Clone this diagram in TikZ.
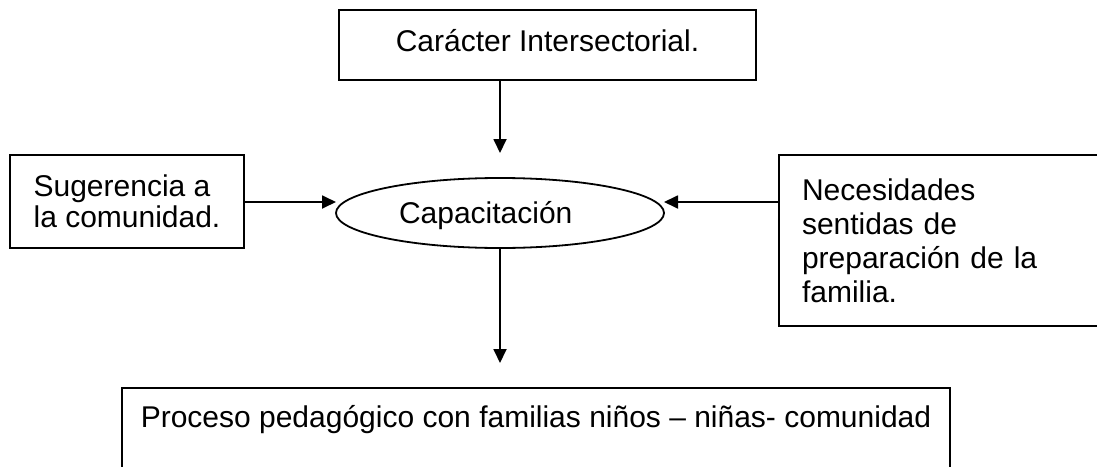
\documentclass[tikz,border=0pt]{standalone}
\usepackage{fontspec}
\setmainfont{Liberation Sans}
\usetikzlibrary{arrows.meta,shapes.geometric}
\tikzset{
    font = \fontsize{15}{16.5}\selectfont,
    every node/.style = {
        outer sep = 0pt
    },
    frame/.style = {
        draw,
        line width = 0.9pt
    },
    trace/.style = {
        -{Triangle[width=6.5pt,length=7pt]},
        line width = 0.9pt
    }
}

\begin{document}
\begin{tikzpicture}
    \useasboundingbox (0,0) rectangle (548.5pt,-233pt);
    \node (top) at (273.75pt,-22.5pt) [
        frame,
        minimum width = 208.5pt,
        minimum height = 35pt,
        text height = 12pt,
        text depth = 6pt
    ]{Carácter Intersectorial.};
    \node (cap) at (250pt,-106.5pt) [
        frame,
        ellipse,
        minimum width = 164pt,
        minimum height = 35pt,
        text width = 101pt,
        align = left,
        text height = 13pt,
        text depth = 3pt
    ]{Capacitación};
    \node (sug) at (63.5pt,-100.75pt) [
        frame,
        minimum width = 117pt,
        minimum height = 46.5pt,
        align = left,
        font = \fontsize{15}{15.5}\selectfont
    ]{Sugerencia a\\la comunidad.};
    \node (nec) at (471pt,-120.25pt) [
        frame,
        inner xsep = 11.5pt,
        minimum width = 163pt,
        minimum height = 85.5pt,
        text width = 140pt,
        align = left,
        font = \fontsize{15}{17}\selectfont
    ]{Necesidades\\sentidas de\\preparación de la\\familia.};
    \node (proc) at (268pt,-194pt) [
        frame,
        anchor = north,
        minimum width = 414pt,
        inner xsep = 9pt,
        align = left,
        inner ysep = 4pt,
        text height = 15.5pt,
        text depth = 30pt
    ]{Proceso pedagógico con familias niños – niñas- comunidad};
    \coordinate (topin) at (250pt,-76.5pt);
    \coordinate (procin) at (250pt,-181.5pt);
    \draw[trace] (top.south -| topin) -- (topin);
    \draw[trace] (cap.south) -- (procin);
    \draw[trace] (sug.east |- 0,-101pt) -- (cap.west |- 0,-101pt);
    \draw[trace] (nec.west |- 0,-101pt) -- (cap.east |- 0,-101pt);
\end{tikzpicture}
\end{document}
